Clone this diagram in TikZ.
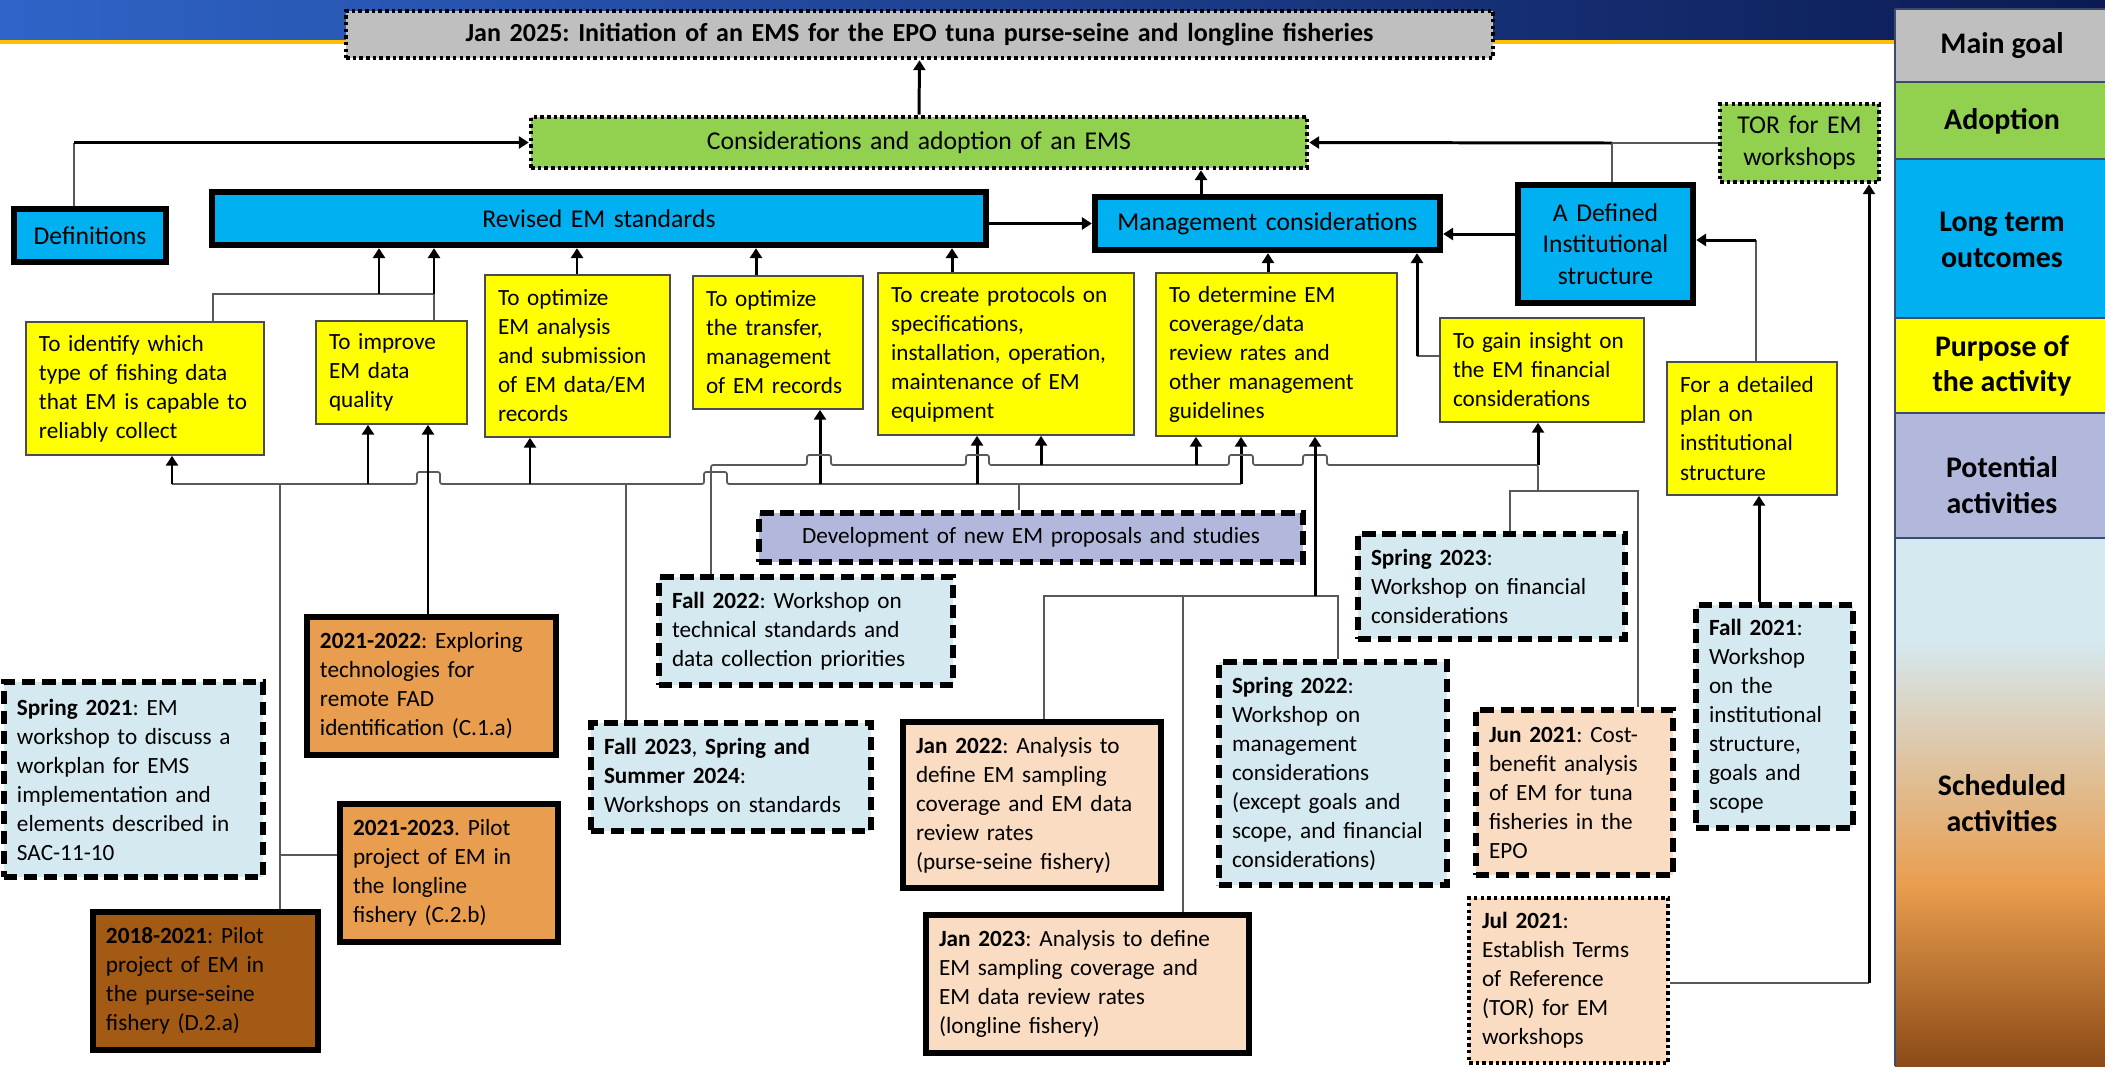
\documentclass[tikz,border=0pt]{standalone}
\usepackage{fontspec}
\setmainfont{Carlito}
\frenchspacing
\usetikzlibrary{arrows.meta,calc}

\definecolor{goalgray}{HTML}{BFBFBF}
\definecolor{adoptgreen}{HTML}{92D050}
\definecolor{outblue}{HTML}{00B0F0}
\definecolor{purpyellow}{HTML}{FFFF00}
\definecolor{potlav}{HTML}{B2B8DC}
\definecolor{wsblue}{HTML}{D5E9F0}
\definecolor{anorange}{HTML}{E99D4E}
\definecolor{anbrown}{HTML}{A35A14}
\definecolor{anbrownd}{HTML}{8B4A17}
\definecolor{anbeige}{HTML}{F9DCC1}
\definecolor{legline}{HTML}{3C4B6E}
\definecolor{seatop}{HTML}{2F64C8}
\definecolor{seadark}{HTML}{0B1A52}
\definecolor{bandgold}{HTML}{FFC000}

\tikzset{
  emsnode/.style  = {rectangle, inner sep=0pt, align=left,
                     font=\fontsize{6.6}{8.25}\selectfont},
  bignode/.style  = {emsnode, align=center, font=\fontsize{7.3}{9}\selectfont},
  goalbox/.style  = {bignode, fill=goalgray, draw=black, line width=1.3pt,
                     dash pattern=on 1pt off 0.9pt,
                     font=\fontsize{7.4}{9}\selectfont\bfseries},
  adoptbox/.style = {bignode, fill=adoptgreen, draw=black, line width=1.3pt,
                     dash pattern=on 1pt off 0.9pt},
  outbox/.style   = {bignode, fill=outblue, draw=black, line width=1.8pt},
  purpbox/.style  = {emsnode, fill=purpyellow, draw=black!70, line width=0.45pt},
  wsbox/.style    = {emsnode, fill=wsblue, draw=black, line width=1.7pt,
                     dash pattern=on 3.8pt off 1.9pt},
  potbox/.style   = {wsbox, fill=potlav, align=center},
  expbox/.style   = {emsnode, fill=anorange, draw=black, line width=1.9pt},
  pilotbox/.style = {expbox, fill=anbrown},
  anabox/.style   = {expbox, fill=anbeige},
  junbox/.style   = {wsbox, fill=anbeige},
  julbox/.style   = {emsnode, fill=anbeige, draw=black, line width=1.2pt,
                     dash pattern=on 1pt off 0.9pt},
  legtext/.style  = {align=center, inner sep=0pt,
                     font=\fontsize{8.5}{10.2}\selectfont\bfseries},
  bus/.style      = {draw=black!65, line width=0.5pt},
  uparr/.style    = {-{Triangle[length=2.8pt,width=3.4pt]}, line width=0.85pt},
}

% name, style, x1, y1, x2, y2, text (pixel units)
\newcommand{\emsbox}[7]{%
  \pgfmathsetmacro{\emsw}{(#5-#3)*0.01}%
  \pgfmathsetmacro{\emsh}{(#6-#4)*0.01}%
  \pgfmathsetmacro{\emst}{(#5-#3-26)*0.01}%
  \node[#2, minimum width=\emsw cm, minimum height=\emsh cm, text width=\emst cm]
    (#1) at ({(#3+#5)/2},{(#4+#6)/2}) {#7};
}

\begin{document}
\begin{tikzpicture}[x=0.01cm, y=-0.01cm]
  \useasboundingbox (0,0) rectangle (2105,1066);

  % banner and legend column
  \shade[left color=seatop, right color=seadark] (0,0) rectangle (2105,40);
  \fill[bandgold] (0,40) rectangle (1895,44);
  \fill[goalgray]   (1895,9)   rectangle (2105,82);
  \fill[adoptgreen] (1895,82)  rectangle (2105,159);
  \fill[outblue]    (1895,159) rectangle (2105,318);
  \fill[purpyellow] (1895,318) rectangle (2105,413);
  \fill[potlav]     (1895,413) rectangle (2105,538);
  \fill[wsblue]     (1895,538) rectangle (2105,640);
  \shade[top color=wsblue, bottom color=anorange] (1895,639) rectangle (2105,886);
  \shade[top color=anorange, bottom color=anbrownd] (1895,885) rectangle (2105,1066);
  \foreach \y in {9,82,159,318,413,538}
    \draw[legline, line width=0.7pt] (1895,\y) -- (2105,\y);
  \draw[legline, line width=0.7pt] (1895,9) -- (1895,1066);

  \node[legtext] (lgGoal)  at (2002,46)  {Main goal};
  \node[legtext] (lgAdopt) at (2002,121) {Adoption};
  \node[legtext] (lgLong)  at (2002,240) {Long term\\outcomes};
  \node[legtext] (lgPurp)  at (2002,366) {Purpose of\\the activity};
  \node[legtext] (lgPot)   at (2002,485) {Potential\\activities};
  \node[legtext] (lgSched) at (2002,803) {Scheduled\\activities};

  % goal, adoption, outcomes
  \emsbox{goal}{goalbox}{346}{11}{1493}{58}{Jan 2025: Initiation of an EMS for the EPO tuna purse-seine and longline fisheries}
  \emsbox{consid}{adoptbox}{531}{117}{1307}{168}{Considerations and adoption of an EMS}
  \emsbox{tor}{adoptbox}{1720}{104}{1879}{182}{TOR for EM\\workshops}
  \emsbox{defs}{outbox}{14}{209}{166}{262}{Definitions}
  \emsbox{revised}{outbox}{212}{192}{986}{245}{Revised EM standards}
  \emsbox{mgmt}{outbox}{1095}{197}{1440}{250}{Management considerations}
  \emsbox{defined}{outbox}{1518}{185}{1693}{303}{A Defined\\Institutional\\structure}

  % purposes
  \emsbox{pIdentify}{purpbox}{26}{322}{264}{455}{To identify which\\type of fishing data\\that EM is capable to\\reliably collect}
  \emsbox{pQuality}{purpbox}{316}{321}{467}{424}{To improve\\EM data\\quality}
  \emsbox{pAnalysis}{purpbox}{485}{275}{670}{437}{To optimize\\EM analysis\\and submission\\of EM data/EM\\records}
  \emsbox{pTransfer}{purpbox}{693}{276}{863}{409}{To optimize\\the transfer,\\management\\of EM records}
  \emsbox{pProtocol}{purpbox}{878}{273}{1134}{435}{To create protocols on\\specifications,\\installation, operation,\\maintenance of EM\\equipment}
  \emsbox{pCoverage}{purpbox}{1156}{273}{1397}{436}{To determine EM\\coverage/data\\review rates and\\other management\\guidelines}
  \emsbox{pFinance}{purpbox}{1440}{318}{1644}{422}{To gain insight on\\the EM financial\\considerations}
  \emsbox{pInstit}{purpbox}{1667}{362}{1837}{495}{For a detailed\\plan on\\institutional\\structure}

  % potential and scheduled activities
  \emsbox{devel}{potbox}{759}{513}{1303}{562}{Development of new EM proposals and studies}
  \emsbox{sSpr21}{wsbox}{4}{682}{263}{877}{\textbf{Spring 2021}: EM\\workshop to discuss a\\workplan for EMS\\implementation and\\elements described in\\SAC-11-10}
  \emsbox{sExplore}{expbox}{307}{617}{556}{755}{\textbf{2021-2022}: Exploring\\technologies for\\remote FAD\\identification (C.1.a)}
  \emsbox{sPilotLL}{expbox}{340}{804}{558}{942}{\textbf{2021-2023}. Pilot\\project of EM in\\the longline\\fishery (C.2.b)}
  \emsbox{sPilotPS}{pilotbox}{93}{912}{318}{1050}{\textbf{2018-2021}: Pilot\\project of EM in\\the purse-seine\\fishery (D.2.a)}
  \emsbox{sFall22}{wsbox}{659}{577}{953}{685}{\textbf{Fall 2022}: Workshop on\\technical standards and\\data collection priorities}
  \emsbox{sFall23}{wsbox}{591}{723}{871}{831}{\textbf{Fall 2023}, \textbf{Spring and}\\\textbf{Summer 2024}:\\Workshops on standards}
  \emsbox{sJan22}{anabox}{903}{722}{1161}{888}{\textbf{Jan 2022}: Analysis to\\define EM sampling\\coverage and EM data\\review rates\\(purse-seine fishery)}
  \emsbox{sJan23}{anabox}{926}{915}{1249}{1053}{\textbf{Jan 2023}: Analysis to define\\EM sampling coverage and\\EM data review rates\\(longline fishery)}
  \emsbox{sSpr22}{wsbox}{1219}{662}{1447}{885}{\textbf{Spring 2022}:\\Workshop on\\management\\considerations\\(except goals and\\scope, and financial\\considerations)}
  \emsbox{sSpr23}{wsbox}{1358}{534}{1625}{639}{\textbf{Spring 2023}:\\Workshop on financial\\considerations}
  \emsbox{sJun21}{junbox}{1476}{710}{1673}{875}{\textbf{Jun 2021}: Cost-\\benefit analysis\\of EM for tuna\\fisheries in the\\EPO}
  \emsbox{sFall21}{wsbox}{1696}{605}{1853}{828}{\textbf{Fall 2021}:\\Workshop\\on the\\institutional\\structure,\\goals and\\scope}
  \emsbox{sJul21}{julbox}{1469}{898}{1668}{1063}{\textbf{Jul 2021}:\\Establish Terms\\of Reference\\(TOR) for EM\\workshops}

  % top of the tree
  \draw[uparr] (consid.north) -- (goal.south);
  \draw[bus] (74,0 |- defs.north) -- (74,0 |- consid.west);
  \draw[uparr] (74,0 |- consid.west) -- (consid.west);
  \draw[bus] (tor.west) -- (1612,0 |- tor.west);
  \draw[uparr] (1612,0 |- tor.west) -- (consid.east);
  \draw[bus] (1612,0 |- defined.north) -- (1612,0 |- tor.west);
  \draw[uparr] (revised.east |- mgmt.west) -- (mgmt.west);
  \draw[uparr] (1201,0 |- mgmt.north) -- (1201,0 |- consid.south);
  \draw[uparr] (defined.west |- 0,234) -- (mgmt.east |- 0,234);
  \draw[bus] (1756,0 |- pInstit.north) -- (1756,240);
  \draw[uparr] (1756,240) -- (defined.east |- 0,240);
  \draw[bus] (sJul21.east |- 0,983) -- (1869,983);
  \draw[uparr] (1869,983) -- (1869,0 |- tor.south);
  \draw[bus] (pFinance.west |- 0,356) -- (1417,356);
  \draw[uparr] (1417,356) -- (1417,0 |- mgmt.south);

  % purposes to revised standards
  \draw[bus] (213,0 |- pIdentify.north) |- (434,294);
  \draw[bus] (434,0 |- pQuality.north) -- (434,294);
  \foreach \x in {379,434}
    \draw[uparr] (\x,294) -- (\x,0 |- revised.south);
  \foreach \x/\n in {577/pAnalysis, 756/pTransfer, 952/pProtocol}
    \draw[uparr] (\x,0 |- \n.north) -- (\x,0 |- revised.south);
  \draw[uparr] (1268,0 |- pCoverage.north) -- (1268,0 |- mgmt.south);

  % activities to purposes, lower line
  \draw[bus, rounded corners=0.6pt] (172,484) -- (417,484) -- (417,472) -- (440,472)
    -- (440,484) -- (704,484) -- (704,472) -- (727,472) -- (727,484) -- (1241,484);
  \foreach \x/\n in {172/pIdentify, 368/pQuality, 530/pAnalysis, 820/pTransfer,
                     977/pProtocol, 1241/pCoverage}
    \draw[uparr] (\x,484) -- (\x,0 |- \n.south);
  \draw[bus] (280,484) -- (280,0 |- sPilotPS.north);
  \draw[bus] (280,855) -- (sPilotLL.west |- 0,855);
  \draw[bus] (626,484) -- (626,0 |- sFall23.north);
  \draw[bus] (1019,484) -- (1019,0 |- devel.north);
  \draw[uparr] (428,0 |- sExplore.north) -- (428,0 |- pQuality.south);

  % upper line
  \draw[bus, rounded corners=0.6pt] (711,0 |- sFall22.north) -- (711,465) -- (807,465)
    -- (807,455) -- (831,455) -- (831,465) -- (966,465) -- (966,455) -- (989,455)
    -- (989,465) -- (1229,465) -- (1229,455) -- (1253,455) -- (1253,465)
    -- (1303,465) -- (1303,455) -- (1327,455) -- (1327,465) -- (1538,465) -- (1538,491);
  \foreach \x/\n in {1041/pProtocol, 1196/pCoverage, 1538/pFinance}
    \draw[uparr] (\x,465) -- (\x,0 |- \n.south);
  \draw[bus] (1510,0 |- sSpr23.north) |- (1638,491) -- (1638,0 |- sJun21.north);

  % analyses and management workshop
  \draw[bus] (1044,0 |- sJan22.north) |- (1338,596) -- (1338,0 |- sSpr22.north);
  \draw[bus] (1183,596) -- (1183,0 |- sJan23.north);
  \draw[uparr] (1315,596) -- (1315,0 |- pCoverage.south);
  \draw[uparr] (1759,0 |- sFall21.north) -- (1759,0 |- pInstit.south);
\end{tikzpicture}
\end{document}
